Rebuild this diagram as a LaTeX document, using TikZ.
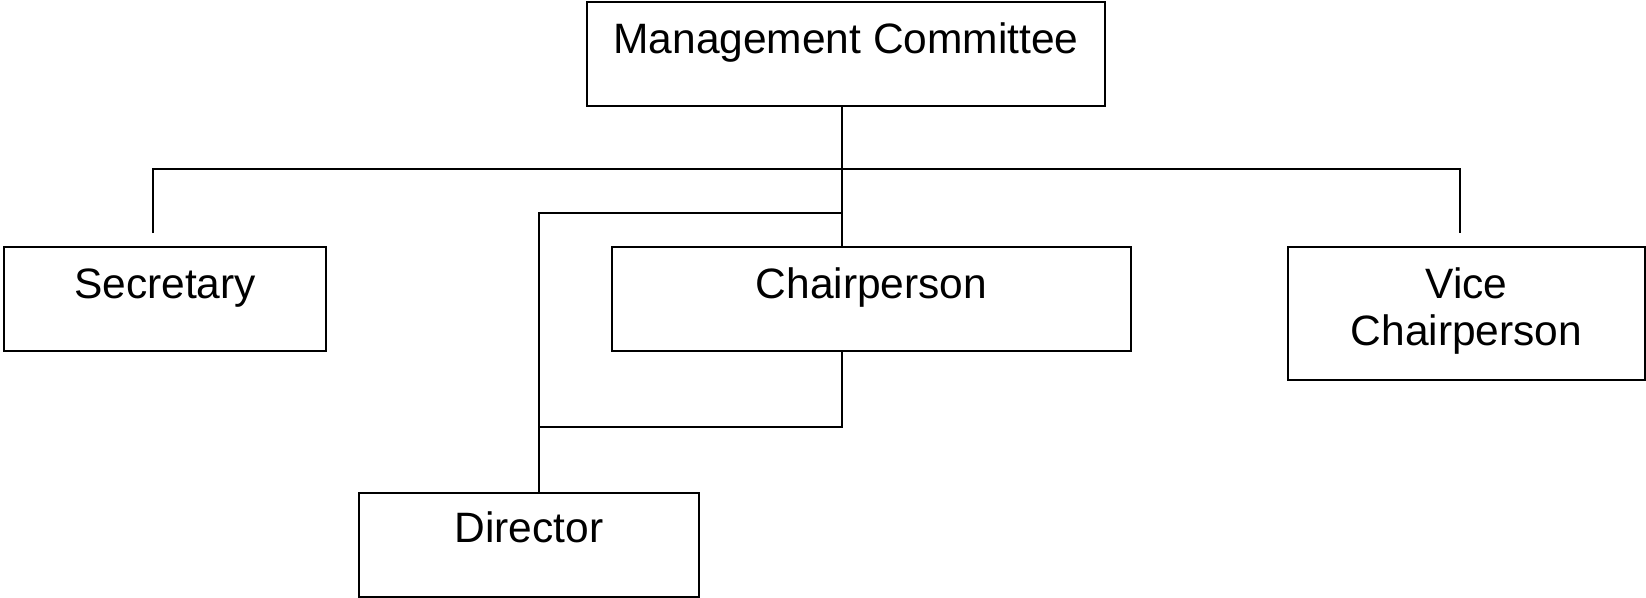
\documentclass[tikz,border=0pt]{standalone}
\usepackage{fontspec}
\setmainfont{Liberation Sans}
\usetikzlibrary{calc}

\begin{document}
\begin{tikzpicture}[x=1pt,y=-1pt,
  box/.style={draw=black, line width=2pt, inner sep=0pt, outer sep=0pt, rectangle},
  lbl/.style={inner sep=0pt, anchor=base, font=\fontsize{42.5}{47.5}\selectfont},
  link/.style={draw=black, line width=1.5pt}]
  \useasboundingbox (0,0) rectangle (1646,597);

  % boxes
  \node[box, minimum width=518pt, minimum height=104pt] (mc)    at (846,54) {};
  \node[box, minimum width=322pt, minimum height=104pt] (sec)   at (165,299) {};
  \node[box, minimum width=519pt, minimum height=104pt] (chair) at (871.5,299) {};
  \node[box, minimum width=357pt, minimum height=133pt] (vice)  at (1466.5,313.5) {};
  \node[box, minimum width=340pt, minimum height=104pt] (dir)   at (529,545.2) {};

  % labels, set near the top of each box
  \node[lbl] (mc-t)    at ($(mc.north)+(0,51)$)    {Management Committee};
  \node[lbl] (sec-t)   at ($(sec.north)+(0,51)$)   {Secretary};
  \node[lbl] (chair-t) at ($(chair.north)+(0,51)$) {Chairperson};
  \node[lbl] (vice-t)  at ($(vice.north)+(0,51)$)
    {\begin{tabular}[t]{@{}c@{}}Vice\\Chairperson\end{tabular}};
  \node[lbl] (dir-t)   at ($(dir.north)+(0,49)$)   {Director};

  % junction points of the connectors
  \coordinate (trunk)    at (842,169);
  \coordinate (secdrop)  at (153,233);
  \coordinate (vicedrop) at (1460,233);
  \coordinate (dirbus)   at (539,213);
  \coordinate (chairbus) at (842,427);

  % committee to the row below
  \draw[link] (mc.south -| trunk) -- (chair.north -| trunk);
  \draw[link] (secdrop) -- (secdrop |- trunk) -- (vicedrop |- trunk) -- (vicedrop);

  % director line
  \draw[link] (dirbus -| trunk) -- (dirbus) -- (dir.north -| dirbus);
  \draw[link] (chair.south -| chairbus) -- (chairbus) -- (chairbus -| dirbus);
\end{tikzpicture}
\end{document}
